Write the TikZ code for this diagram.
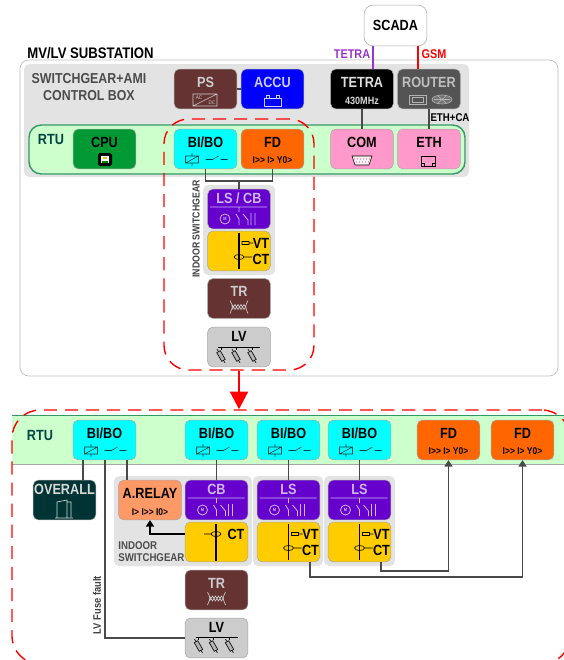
\documentclass[tikz,border=0pt]{standalone}
\usepackage{fontspec}
\setmainfont{Liberation Sans}[FakeStretch=0.86]
\usepackage{tikz}
\usetikzlibrary{arrows.meta, fit, calc}

\definecolor{brownbox}{HTML}{663333}
\definecolor{purplebox}{HTML}{6600CC}
\definecolor{yellowbox}{HTML}{FFCC00}
\definecolor{orangebox}{HTML}{FF6600}
\definecolor{pinkbox}{HTML}{FF99CC}
\definecolor{cyanbox}{HTML}{00FFFF}
\definecolor{bluebox}{HTML}{0000FF}
\definecolor{cpugreen}{HTML}{009933}
\definecolor{relayorange}{HTML}{FF9966}
\definecolor{overallbox}{HTML}{003333}
\definecolor{rtugreen}{HTML}{CCFFCC}
\definecolor{rtuline}{HTML}{339966}
\definecolor{panelgray}{HTML}{E3E3E3}
\definecolor{wiregray}{HTML}{4A4A4A}
\definecolor{lightpurple}{HTML}{CCB8F5}
\definecolor{darkteal}{HTML}{004444}
\definecolor{tetrapurple}{HTML}{9933CC}
\definecolor{redline}{HTML}{FF0000}

\tikzset{
  modbox/.style={draw=gray!70, line width=0.3pt, rounded corners=3pt, inner sep=0pt,
    minimum width=35.7pt, minimum height=22.7pt, text height=6pt, text depth=8pt,
    font=\bfseries\fontsize{8.4}{9}\selectfont},
  highbox/.style={modbox, text depth=12pt},
  sublabel/.style={inner sep=0pt, font=\bfseries\fontsize{5.6}{6}\selectfont},
  tag/.style={inner sep=0pt, font=\bfseries\fontsize{7.2}{8.6}\selectfont},
  panel/.style={fill=panelgray, rounded corners=3pt, inner sep=0pt},
  wire/.style={draw=wiregray, line width=0.65pt},
  tipwire/.style={wire, -{Triangle[width=4.6pt,length=3.6pt]}},
  redzone/.style={draw=redline, line width=0.8pt, rounded corners=14pt, inner sep=0pt,
    dash pattern=on 7.5pt off 4.5pt},
  pics/relaysw/.style={code={
    \draw[line width=0.35pt, darkteal] (-20,7) rectangle (-7,14) (-20,14) -- (-7,7)
      (-13.5,4) -- (-13.5,7) (-13.5,14) -- (-13.5,17);
    \draw[line width=0.35pt, darkteal] (0,10.5) -- (7,10.5) -- (13,7) (15,10.5) -- (22,10.5);
  }},
  pics/lsicon/.style={code={
    \draw[line width=0.45pt, lightpurple] (-29,-2) -- (28,-2) (0,-2) -- (0,3) (-14,10) circle (5)
      (-3,5) -- (0,10) -- (0,16) (4,5) -- (9,11) -- (9,16) (12,4) -- (12,16) (16,4) -- (16,16);
    \node[inner sep=0pt, text=lightpurple, font=\bfseries\fontsize{2.6}{3}\selectfont] (-m) at (-14,10) {M};
  }},
  pics/vtct/.style={code={
    \draw[line width=0.7pt] (0,-18) -- (0,18);
    \draw[line width=0.35pt] (3,-9.5) rectangle (10,-6.5) (10,-8) -- (14,-8)
      (0,6) ellipse (5 and 2.5) (5,6) -- (13,6);
    \node[inner sep=0pt, font=\bfseries\fontsize{8.4}{9}\selectfont] (-vt) at (22,-8) {VT};
    \node[inner sep=0pt, font=\bfseries\fontsize{8.4}{9}\selectfont] (-ct) at (22,8) {CT};
  }},
  pics/fuses/.style={code={
    \draw[line width=0.35pt] (-21,0) -- (21,0);
    \foreach \fx in {-18,-3,13} {
      \draw[line width=0.35pt] (\fx,0) -- (\fx,3);
      \draw[line width=0.35pt, rotate around={-60:(\fx,9)}] (\fx-8,9) -- (\fx+8,9);
      \draw[line width=0.35pt, rotate around={-60:(\fx,9)}, fill=gray!60] (\fx-5,7) rectangle (\fx+5,11);
    }
  }},
  pics/trafo/.style={code={
    \draw[line width=0.35pt, gray!40] (-9,2) .. controls (-6,8) .. (-9,15) (9,2) .. controls (6,8) .. (9,15)
      (-7,6) -- (-4,11) -- (-1,6) -- (2,11) -- (5,6) -- (7,9)
      (-7,11) -- (-4,6) -- (-1,11) -- (2,6) -- (5,11) -- (7,8);
  }}
}

\begin{document}
\begin{tikzpicture}[x=0.02cm, y=-0.02cm]
\useasboundingbox (0,0) rectangle (564,660);
\clip (0,0) rectangle (564,660);

% Upper substation
\node[fit={(20,60) (558,376)}, draw=gray!50, fill=white, rounded corners=5pt, inner sep=0pt] (substation) {};
\node[fit={(24,64) (469,177)}, panel] (ctrlbox) {};
\node[fit={(29,125) (465,174)}, draw=rtuline, line width=0.8pt, fill=rtugreen, rounded corners=7pt, inner sep=0pt] (rtutop) {};
\node[fit={(203,185) (275,275)}, panel] (indoortop) {};

\node[anchor=west, inner sep=0pt, font=\bfseries\fontsize{8.7}{9}\selectfont] (title) at (27,53) {MV/LV SUBSTATION};
\node[inner sep=0pt, align=center, text=black!70, font=\bfseries\fontsize{8.2}{9.2}\selectfont] (ctrllabel) at (89,87) {SWITCHGEAR+AMI\\CONTROL BOX};
\node[inner sep=0pt, text=darkteal, font=\bfseries\fontsize{8.4}{9}\selectfont] (rtutoplabel) at (51,139) {RTU};
\node[inner sep=0pt, rotate=90, font=\bfseries\fontsize{5.8}{7}\selectfont, text=black!75] (indoortoplabel) at (196,229) {INDOOR SWITCHGEAR};

\node[modbox, fill=white, rounded corners=5pt, minimum height=23.2pt, text depth=0pt] (scada) at (395.5,25.5) {SCADA};

% Modules
\node[modbox, fill=brownbox, text=gray!40] (ps) at (205.5,89) {PS};
\node[modbox, fill=bluebox, text=bluebox!20] (accu) at (272.5,89) {ACCU};
\node[modbox, fill=black, text=gray!25] (tetra) at (362,89) {TETRA};
\node[modbox, fill=black!67, text=gray!50] (router) at (429,89) {ROUTER};
\node[modbox, fill=cpugreen] (cpu) at (104.5,149) {CPU};
\node[modbox, fill=cyanbox] (bibotop) at (205.5,149) {BI/BO};
\node[modbox, fill=orangebox] (fdtop) at (272.5,149) {FD};
\node[modbox, fill=pinkbox] (com) at (362,149) {COM};
\node[modbox, fill=pinkbox] (eth) at (429,149) {ETH};
\node[highbox, fill=purplebox, text=lightpurple] (lscbtop) at (239,209) {LS / CB};
\node[modbox, fill=yellowbox] (vtcttop) at (239,251) {};
\node[modbox, fill=brownbox, text=gray!40] (trtop) at (239,298.5) {TR};
\node[highbox, fill=gray!40] (lvtop) at (239,347) {LV};

% Icons
\node[sublabel, text=gray!30, font=\bfseries\fontsize{6}{6}\selectfont] (tetrasub) at (362,100.5) {430MHz};
\node[sublabel] (fdtopsub) at (272.5,160.5) {I>{}> I> Y0>};
\draw[line width=0.35pt, gray!40] (193,94) rectangle (217,106) (193,106) -- (217,94);
\node[inner sep=0pt, text=gray!40, font=\fontsize{3}{3}\selectfont] (acsign) at (199,98) {AC};
\node[inner sep=0pt, text=gray!40, font=\fontsize{3}{3}\selectfont] (dcsign) at (212,102.5) {DC};
\draw[line width=0.35pt, bluebox!20] (264,98) rectangle (281,106) (266,98) -- (266,95.5) -- (269,95.5) -- (269,98) (276,98) -- (276,95.5) -- (279,95.5) -- (279,98);
\draw[line width=0.35pt, gray!60] (409,95) rectangle (426,104) (412,97) rectangle (423,102);
\draw[line width=0.35pt, gray!60, fill=black!55] (442,99.5) ellipse (10 and 4.5) (434,99.5) -- (450,99.5) (438,96) -- (446,103) (446,96) -- (438,103);
\fill[black, rounded corners=1pt] (98,153) rectangle (112,166);
\fill[white] (101,156) rectangle (109,163);
\fill[green!50!black] (102,161) rectangle (108,163);
\fill[yellow!80!black] (103,157) rectangle (107,159);
\draw[line width=0.35pt, fill=white!85!pinkbox] (352,156) -- (372,156) -- (369,165) -- (355,165) -- cycle;
\foreach \dx in {355,358,361,364,367,370} \fill[black] (\dx-0.5,159) circle (0.4);
\foreach \dx in {357,360,363,366,369} \fill[black] (\dx-0.5,162) circle (0.4);
\draw[line width=0.45pt] (421,156) -- (435,156) -- (435,166) -- (421,166) -- cycle (424,166) -- (424,163) -- (421,163) (432,166) -- (432,163) -- (435,163);
\pic at (205.5,149) {relaysw};
\pic (iconlsa) at (239,209) {lsicon};
\pic (iconvta) at (239,251) {vtct};
\pic at (239,298.5) {trafo};
\pic at (239,347) {fuses};

% Upper connectors
\coordinate (pintetra) at (373,46);
\coordinate (pingsm) at (418,46);
\coordinate (joint) at (239,181);
\draw[line width=0.7pt, draw=tetrapurple] (pintetra) -- (pintetra |- tetra.north);
\draw[line width=0.7pt, draw=redline] (pingsm) -- (pingsm |- router.north);
\draw[wire] (ps) -- (accu);
\draw[wire] (tetra) -- (com);
\draw[wire] (router) -- (eth);
\draw[wire] (bibotop.south) |- (joint) -| (fdtop.south);
\draw[wire] (joint) -- (lscbtop.north);
\node[tag, text=tetrapurple] (tetralabel) at (352,54.5) {TETRA};
\node[tag, text=redline] (gsmlabel) at (434,54.5) {GSM};
\node[sublabel, text=black, font=\bfseries\fontsize{6.4}{7}\selectfont] (ethlabel) at (450,118) {ETH+CA};

% Lower panel
\node[fit={(12,416) (570,464)}, fill=rtugreen, inner sep=0pt] (rtubot) {};
\draw[rtuline, line width=0.5pt] (rtubot.north west) -- (rtubot.north east);
\draw[gray!70, line width=0.5pt] (rtubot.south west) -- (rtubot.south east);
\node[fit={(114,476) (252,566)}, panel] (indoora) {};
\node[fit={(253,476) (323,566)}, panel] (indoorb) {};
\node[fit={(324,476) (395,566)}, panel] (indoorc) {};

\node[inner sep=0pt, text=darkteal, font=\bfseries\fontsize{8.4}{9}\selectfont] (rtubotlabel) at (40,435) {RTU};
\node[inner sep=0pt, anchor=north west, align=left, text=black!70, font=\bfseries\fontsize{6.4}{7.2}\selectfont] (indoorlabel) at (118,541) {INDOOR\\SWITCHGEAR};
\node[inner sep=0pt, rotate=90, text=black!75, font=\bfseries\fontsize{6.2}{7}\selectfont] (fuselabel) at (97,605) {LV Fuse fault};

\node[modbox, fill=cyanbox] (biboa) at (104.5,440) {BI/BO};
\node[modbox, fill=cyanbox] (bibob) at (216.5,440) {BI/BO};
\node[modbox, fill=cyanbox] (biboc) at (288.5,440) {BI/BO};
\node[modbox, fill=cyanbox] (bibod) at (359.5,440) {BI/BO};
\node[modbox, fill=orangebox] (fda) at (448.5,440) {FD};
\node[modbox, fill=orangebox] (fdb) at (522.5,440) {FD};
\node[highbox, fill=overallbox, text=gray!30] (overall) at (64.5,500) {OVERALL};
\node[modbox, fill=relayorange] (arelay) at (150,500) {A.RELAY};
\node[highbox, fill=purplebox, text=lightpurple] (cb) at (216.5,500) {CB};
\node[highbox, fill=purplebox, text=lightpurple] (lsb) at (288.5,500) {LS};
\node[highbox, fill=purplebox, text=lightpurple] (lsc) at (359.5,500) {LS};
\node[modbox, fill=yellowbox] (ctonly) at (216.5,542) {};
\node[modbox, fill=yellowbox] (vtctb) at (288.5,542) {};
\node[modbox, fill=yellowbox] (vtctc) at (359.5,542) {};
\node[modbox, fill=brownbox, text=gray!40] (trbot) at (216.5,590) {TR};
\node[highbox, fill=gray!40] (lvbot) at (216.5,638) {LV};

% Lower icons
\foreach \bx in {104.5,216.5,288.5,359.5} \pic at (\bx,440) {relaysw};
\node[sublabel] (fdasub) at (448.5,451.5) {I>{}> I> Y0>};
\node[sublabel] (fdbsub) at (522.5,451.5) {I>{}> I> Y0>};
\node[sublabel] (arelaysub) at (150,512) {I> I>{}> I0>};
\pic (iconlsb) at (216.5,500) {lsicon};
\pic (iconlsc) at (288.5,500) {lsicon};
\pic (iconlsd) at (359.5,500) {lsicon};
\pic (iconvtb) at (288.5,542) {vtct};
\pic (iconvtc) at (359.5,542) {vtct};
\pic at (216.5,590) {trafo};
\pic at (216.5,637) {fuses};
\draw[line width=0.7pt] (216,524) -- (216,561);
\draw[line width=0.35pt] (216,534) ellipse (5 and 2.5) (211,534) -- (204,534);
\node[inner sep=0pt, font=\bfseries\fontsize{8.4}{9}\selectfont] (ctonlylabel) at (236,534) {CT};
\draw[line width=0.35pt, gray!30] (57,502) -- (67,500) -- (67,518) -- (57,518) -- cycle (67,502) -- (71,502) -- (71,517) (55,518) -- (73,518);

% Lower connectors
\coordinate (pinoverall) at (83,460);
\coordinate (pinfuse) at (105,460);
\coordinate (pinrelay) at (127,460);
\coordinate (pinct) at (185,534);
\coordinate (pinfda) at (381,562);
\coordinate (pinfdb) at (310,562);
\draw[wire] (pinoverall) -- (pinoverall |- overall.north);
\draw[wire] (pinrelay) -- (pinrelay |- arelay.north);
\draw[wire] (pinfuse) |- (lvbot.west);
\draw[wire] (bibob) -- (cb);
\draw[wire] (biboc) -- (lsb);
\draw[wire] (bibod) -- (lsc);
\draw[tipwire, draw=black, line width=0.7pt] (pinct) -| (arelay.south);
\draw[tipwire] (pinfda) -- ++(0,9) -| (fda.south);
\draw[tipwire] (pinfdb) -- ++(0,15) -| (fdb.south);

% Red zones
\node[fit={(164,119) (314,370)}, redzone] (zonetop) {};
\node[fit={(12,410) (570,664)}, redzone, rounded corners=16pt] (zonebot) {};
\draw[draw=redline, line width=1.6pt, -{Triangle[width=10pt,length=10pt]}] (zonetop.south) -- (zonetop.south |- zonebot.north);
\end{tikzpicture}
\end{document}
